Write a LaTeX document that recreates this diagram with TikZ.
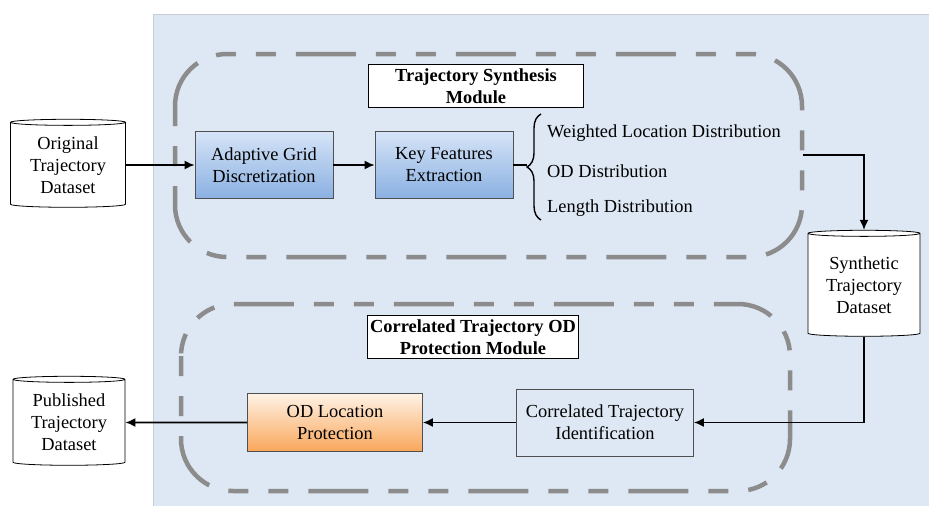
\documentclass[tikz,border=0pt]{standalone}
\usepackage{fontspec}
\setmainfont{Liberation Serif}
\usetikzlibrary{shapes.geometric,arrows.meta,decorations.pathreplacing}

\definecolor{panel}{RGB}{221,232,244}
\definecolor{panelline}{RGB}{200,205,212}
\definecolor{modline}{RGB}{140,140,140}
\definecolor{bluetop}{RGB}{214,228,247}
\definecolor{bluebot}{RGB}{138,176,226}
\definecolor{orangetop}{RGB}{255,243,230}
\definecolor{orangebot}{RGB}{249,166,90}
\definecolor{boxline}{RGB}{80,80,80}

\begin{document}
\begin{tikzpicture}[x=1pt,y=-1pt,
  every node/.style={font=\fontsize{18.4}{22}\selectfont, align=center},
  store/.style={cylinder, shape border rotate=90, aspect=0.08, draw=black,
    fill=white, line width=0.8pt, inner sep=0pt},
  bluebox/.style={rectangle, draw=boxline, line width=0.8pt,
    top color=bluetop, bottom color=bluebot, minimum width=138pt, minimum height=67pt},
  orangebox/.style={rectangle, draw=boxline, line width=0.8pt,
    top color=orangetop, bottom color=orangebot, minimum width=175pt, minimum height=58pt},
  plainbox/.style={rectangle, draw=boxline, line width=0.8pt, fill=panel,
    minimum width=177pt, minimum height=67pt},
  titlebox/.style={rectangle, draw=black, line width=0.8pt, fill=white,
    font=\fontsize{18.4}{22}\selectfont\bfseries, inner sep=2pt},
  module/.style={draw=modline, line width=4.5pt, rounded corners=52pt,
    dash pattern=on 20pt off 20pt on 20pt off 20pt on 60pt off 20pt},
  flow/.style={draw=black, line width=1.6pt, -{Latex[length=10pt,width=9pt]}},
  link/.style={draw=black, line width=1.6pt},
  item/.style={anchor=west, inner sep=0pt}
]
\useasboundingbox (0,0) rectangle (929,506);

% background panel
\fill[panel] (153,14) rectangle (929,506);
\draw[panelline, line width=0.8pt] (153,506) -- (153,14) -- (929,14);

% dashed module frames
\draw[module] (175,54) rectangle (802,257);
\draw[module] (181,304) rectangle (790,491);

% module titles
\node[titlebox, minimum width=215pt, minimum height=43pt] (synthT) at (476,86) {Trajectory Synthesis\\Module};
\node[titlebox, minimum width=211pt, minimum height=43pt] (protT) at (473,337) {Correlated Trajectory OD\\Protection Module};

% data stores
\node[store, minimum width=115pt, minimum height=88pt] (orig) at (68,165) {Original\\Trajectory\\Dataset};
\node[store, minimum width=112pt, minimum height=106pt] (synth) at (864,285) {Synthetic\\Trajectory\\Dataset};
\node[store, minimum width=112pt, minimum height=89pt] (pub) at (69,422.5) {Published\\Trajectory\\Dataset};

% processing steps
\node[bluebox] (grid) at (264,165) {Adaptive Grid\\Discretization};
\node[bluebox] (feat) at (444,165) {Key Features\\Extraction};
\node[plainbox] (ident) at (605,422.5) {Correlated Trajectory\\Identification};
\node[orangebox] (odp) at (335,422.5) {OD Location\\Protection};

% extracted features
\coordinate (brtip) at (527,165);
\draw[black, line width=1.4pt, decoration={brace, amplitude=14pt, aspect=0.5}, decorate]
  (541,220) -- (541,114);
\node[item] (wld) at (547,133) {Weighted Location Distribution};
\node[item] (odd) at (547,171) {OD Distribution};
\node[item] (lend) at (547,208) {Length Distribution};

% connectors
\coordinate (synthOut) at (803,155);
\draw[flow] (orig.east) -- (grid.west);
\draw[flow] (grid.east) -- (feat.west);
\draw[link] (feat.east) -- (brtip);
\draw[flow] (synthOut) -| (synth.north);
\draw[flow] (synth.south) |- (ident.east);
\draw[flow] (ident.west) -- (odp.east);
\draw[flow] (odp.west) -- (pub.east);
\end{tikzpicture}
\end{document}
